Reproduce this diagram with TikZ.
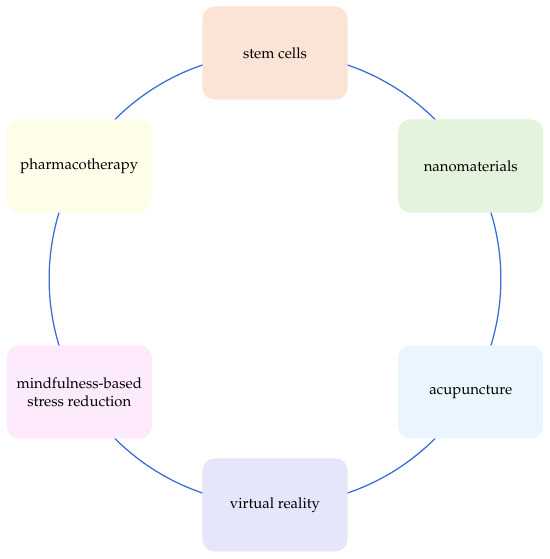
\documentclass[tikz,border=0pt]{standalone}
\usepackage[T1]{fontenc}
\usepackage{mathpazo}
\usepackage{tikz}
\usetikzlibrary{backgrounds}
\definecolor{cycBlue}{HTML}{3A6BD6}
\definecolor{cycPeach}{HTML}{FBE4D6}
\definecolor{cycGreen}{HTML}{E3F3DC}
\definecolor{cycSky}{HTML}{EAF6FD}
\definecolor{cycLilac}{HTML}{E6E6FA}
\definecolor{cycPink}{HTML}{FDEAFC}
\definecolor{cycCream}{HTML}{FEFEE8}

\begin{document}
\begin{tikzpicture}[x=0.025cm,y=0.025cm,font=\fontsize{10.6}{12.8}\selectfont,
    topic/.style={draw=none,rounded corners=0.3cm,minimum width=3.625cm,
                  minimum height=2.325cm,align=center,inner sep=2pt},
    ring/.style={cycBlue,line width=0.9pt}]
  \useasboundingbox (-275,-280) rectangle (275,279);
  \node[topic,fill=cycPeach]  (stem)   at (90:226)   {stem cells};
  \node[topic,fill=cycGreen]  (nano)   at (30:226)   {nanomaterials};
  \node[topic,fill=cycSky]    (acu)    at (-30:226)  {acupuncture};
  \node[topic,fill=cycLilac]  (vr)     at (-90:226)  {virtual reality};
  \node[topic,fill=cycPink]   (mind)   at (-150:226) {mindfulness-based\\stress reduction};
  \node[topic,fill=cycCream]  (pharma) at (150:226)  {pharmacotherapy};
  \begin{scope}[on background layer]
    \foreach \a/\b in {stem/nano,nano/acu,acu/vr,vr/mind,mind/pharma,pharma/stem}
      \draw[ring] (\a.center) to[bend left=30,looseness=0.912] (\b.center);
  \end{scope}
\end{tikzpicture}
\end{document}
